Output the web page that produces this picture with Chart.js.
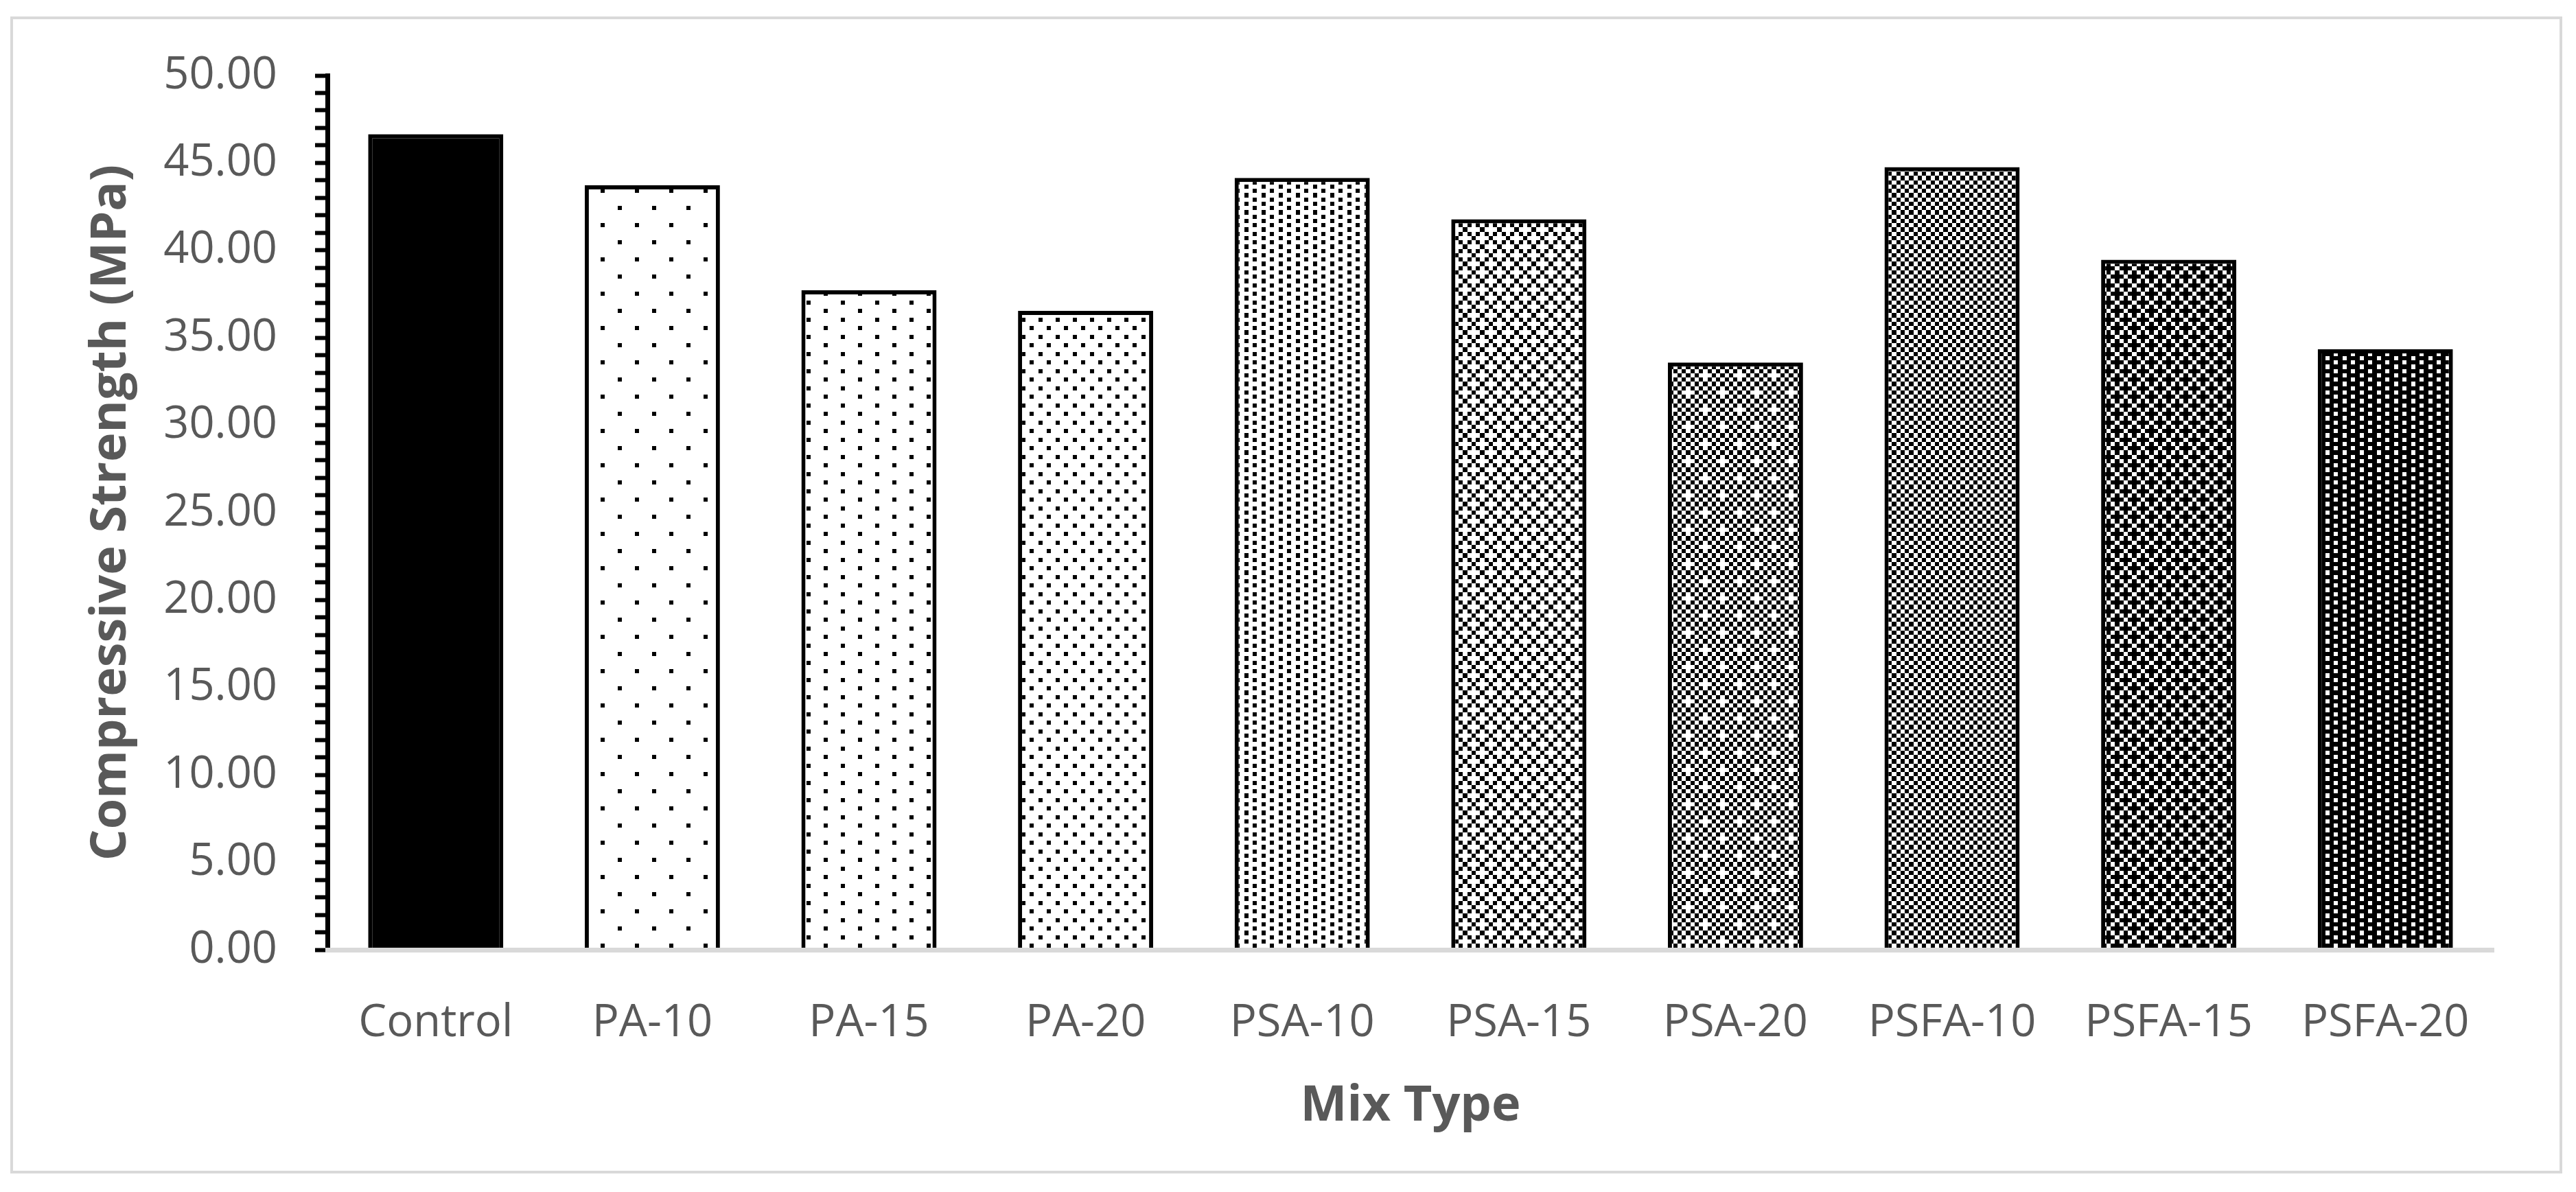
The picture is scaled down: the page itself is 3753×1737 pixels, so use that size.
<!DOCTYPE html>
<html>
    <head>
        <title>Compressive Strength</title>
        <meta charset="UTF-8" />
        <script src="https://cdn.jsdelivr.net/npm/chart.js"></script>
        <style>
            body { margin: 0; background: #fff; }
        </style>
    </head>
    <body>
        <canvas id="myChart" width="3753" height="1737"></canvas>
        <script>
            // data
            var mixTypes = ['Control', 'PA-10', 'PA-15', 'PA-20', 'PSA-10', 'PSA-15', 'PSA-20', 'PSFA-10', 'PSFA-15', 'PSFA-20'];
            var strengths = [46.64, 43.72, 37.72, 36.54, 44.14, 41.78, 33.59, 44.76, 39.46, 34.34];
            var yMin = 0;
            var yMax = 50;
            var yLabelStep = 5;

            // Excel-like 8x8 fill patterns (one byte per row), null = solid black
            var fillBits = [
                null,
                [0x80, 0x00, 0x00, 0x00, 0x08, 0x00, 0x00, 0x00],
                [0x80, 0x00, 0x08, 0x00],
                [0x88, 0x00, 0x22, 0x00],
                [0x88, 0x22],
                [0xAA, 0x44, 0xAA, 0x11],
                [0xAA, 0x55, 0xAA, 0x15, 0xAA, 0x55, 0xAA, 0x51],
                [0xAA, 0x55],
                [0xEE, 0x55, 0xBB, 0x55],
                [0x77, 0xDD]
            ];

            var ctx = document.getElementById('myChart').getContext('2d');

            function makePattern(rows) {
                if (!rows) return '#000000';
                var c = document.createElement('canvas');
                c.width = 50; c.height = 50;
                var g = c.getContext('2d');
                g.fillStyle = '#ffffff';
                g.fillRect(0, 0, 50, 50);
                g.fillStyle = '#000000';
                for (var r = 0; r < 8; r++) {
                    var bits = rows[r % rows.length];
                    for (var b = 0; b < 8; b++) {
                        if (bits & (0x80 >> b)) {
                            var x0 = Math.round(b * 6.25), x1 = Math.round((b + 1) * 6.25);
                            var y0 = Math.round(r * 6.25), y1 = Math.round((r + 1) * 6.25);
                            g.fillRect(x0, y0, x1 - x0, y1 - y0);
                        }
                    }
                }
                return ctx.createPattern(c, 'repeat');
            }

            var fills = fillBits.map(makePattern);

            // white page + light grey frame round the chart
            var frame = {
                id: 'frame',
                beforeDraw: function(chart) {
                    var c = chart.ctx;
                    c.save();
                    c.fillStyle = '#ffffff';
                    c.fillRect(0, 0, chart.width, chart.height);
                    c.strokeStyle = '#d9d9d9';
                    c.lineWidth = 4;
                    c.strokeRect(17, 26, 3714, 1682);
                    c.restore();
                }
            };

            var myChart = new Chart(ctx, {
                type: 'bar',
                data: {
                    labels: mixTypes,
                    datasets: [{
                        label: 'Compressive Strength',
                        data: strengths,
                        backgroundColor: fills,
                        borderColor: '#000000',
                        borderWidth: 6,
                        barPercentage: 0.624,
                        categoryPercentage: 1
                    }]
                },
                options: {
                    responsive: false,
                    devicePixelRatio: 1,
                    animation: false,
                    layout: { padding: { left: 0, top: 110, right: 120, bottom: 0 } },
                    plugins: {
                        legend: { display: false },
                        tooltip: { enabled: false }
                    },
                    scales: {
                        x: {
                            afterFit: function(scale) { scale.height = 353; },
                            grid: { display: false },
                            border: { display: true, color: '#d9d9d9', width: 7, z: 1 },
                            ticks: {
                                padding: 60,
                                color: '#595959',
                                font: { family: 'Open Sans', size: 65, lineHeight: 1.2 }
                            },
                            title: {
                                display: true,
                                text: 'Mix Type',
                                color: '#595959',
                                font: { family: 'Open Sans', size: 72, weight: 'bold', lineHeight: 1.2 },
                                padding: { top: 0, bottom: 81 }
                            }
                        },
                        y: {
                            min: yMin,
                            max: yMax,
                            afterFit: function(scale) { scale.width = 477; },
                            grid: {
                                display: true,
                                drawOnChartArea: false,
                                drawTicks: true,
                                tickLength: 18,
                                tickWidth: 6,
                                tickColor: '#000000'
                            },
                            border: { display: true, color: '#000000', width: 7 },
                            ticks: {
                                stepSize: 1,
                                autoSkip: false,
                                padding: 55,
                                color: '#595959',
                                font: { family: 'Open Sans', size: 65, lineHeight: 1.2 },
                                callback: function(v) {
                                    return v % yLabelStep === 0 ? v.toFixed(2) : '';
                                }
                            },
                            title: {
                                display: true,
                                text: 'Compressive Strength (MPa)',
                                color: '#595959',
                                font: { family: 'Open Sans', size: 72, weight: 'bold', lineHeight: 1.2 },
                                padding: { top: 119, bottom: 0 }
                            }
                        }
                    }
                },
                plugins: [frame]
            });
        </script>
    </body>
</html>
